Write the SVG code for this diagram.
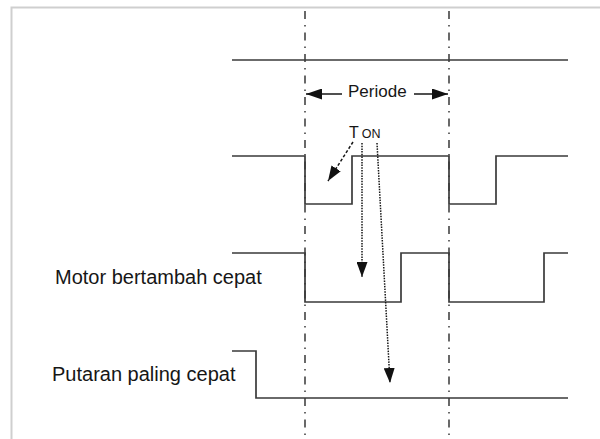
<svg xmlns="http://www.w3.org/2000/svg" width="600" height="439" viewBox="0 0 600 439">
<style>
.sig{fill:none;stroke:#3a3a3a;stroke-width:1.7}
.grid{fill:none;stroke:#444;stroke-width:1.6;stroke-dasharray:8 6 1.5 6}
.lbl{font-family:"Liberation Sans",Arial,sans-serif;fill:#161616}
.dash{fill:none;stroke:#161616;stroke-width:1.5;stroke-dasharray:3 2}
.dot{fill:none;stroke:#161616;stroke-width:1.5;stroke-dasharray:1.5 1.2}
.solid{fill:none;stroke:#161616;stroke-width:1.6}
</style>
<defs>
<marker id="ah" viewBox="0 0 15 11" refX="15" refY="5.5" markerWidth="15" markerHeight="11" markerUnits="userSpaceOnUse" orient="auto">
<path d="M0,0 L15,5.5 L0,11 Z" fill="#111"/>
</marker>
<marker id="ahB" viewBox="0 0 16 11" refX="16" refY="5.5" markerWidth="16" markerHeight="11" markerUnits="userSpaceOnUse" orient="auto">
<path d="M0,0 L16,5.5 L0,11 Z" fill="#111"/>
</marker>
</defs>
<rect width="600" height="439" fill="#fff"/>
<path d="M11.5,439 V7.5 H600" fill="none" stroke="#cfcfcf" stroke-width="2"/>
<g id="gridlines">
<line class="grid" x1="305" y1="11" x2="305" y2="439"/>
<line class="grid" x1="449" y1="11" x2="449" y2="439"/>
</g>
<g id="signal1"><polyline class="sig" points="232,60 568,60"/></g>
<g id="signal2"><polyline class="sig" points="232,156 305,156 305,204 352,204 352,156 449,156 449,204 496,204 496,156 568,156"/></g>
<g id="signal3"><polyline class="sig" points="232,253 305,253 305,302 401,302 401,253 449,253 449,302 544,302 544,253 568,253"/></g>
<g id="signal4"><polyline class="sig" points="232,351 256,351 256,398 568,398"/></g>
<g id="label-periode"><text class="lbl" x="348" y="97" font-size="17">Periode</text></g>
<g id="label-ton"><text class="lbl" x="349" y="138" font-size="16">T<tspan font-size="12.5" dx="3">ON</tspan></text></g>
<g id="label-motor"><text class="lbl" x="55" y="284" font-size="20">Motor bertambah cepat</text></g>
<g id="label-putaran"><text class="lbl" x="52" y="381" font-size="20">Putaran paling cepat</text></g>
<g id="connectors">
<line class="solid" x1="342" y1="94" x2="306" y2="94" marker-end="url(#ahB)"/>
<line class="solid" x1="414" y1="94" x2="448" y2="94" marker-end="url(#ahB)"/>
<line class="dash" x1="353" y1="142" x2="328" y2="181" marker-end="url(#ah)"/>
<line class="dot" x1="362" y1="143" x2="362" y2="277" marker-end="url(#ah)"/>
<line class="dot" x1="377" y1="143" x2="390" y2="383" marker-end="url(#ah)"/>
</g>
</svg>
